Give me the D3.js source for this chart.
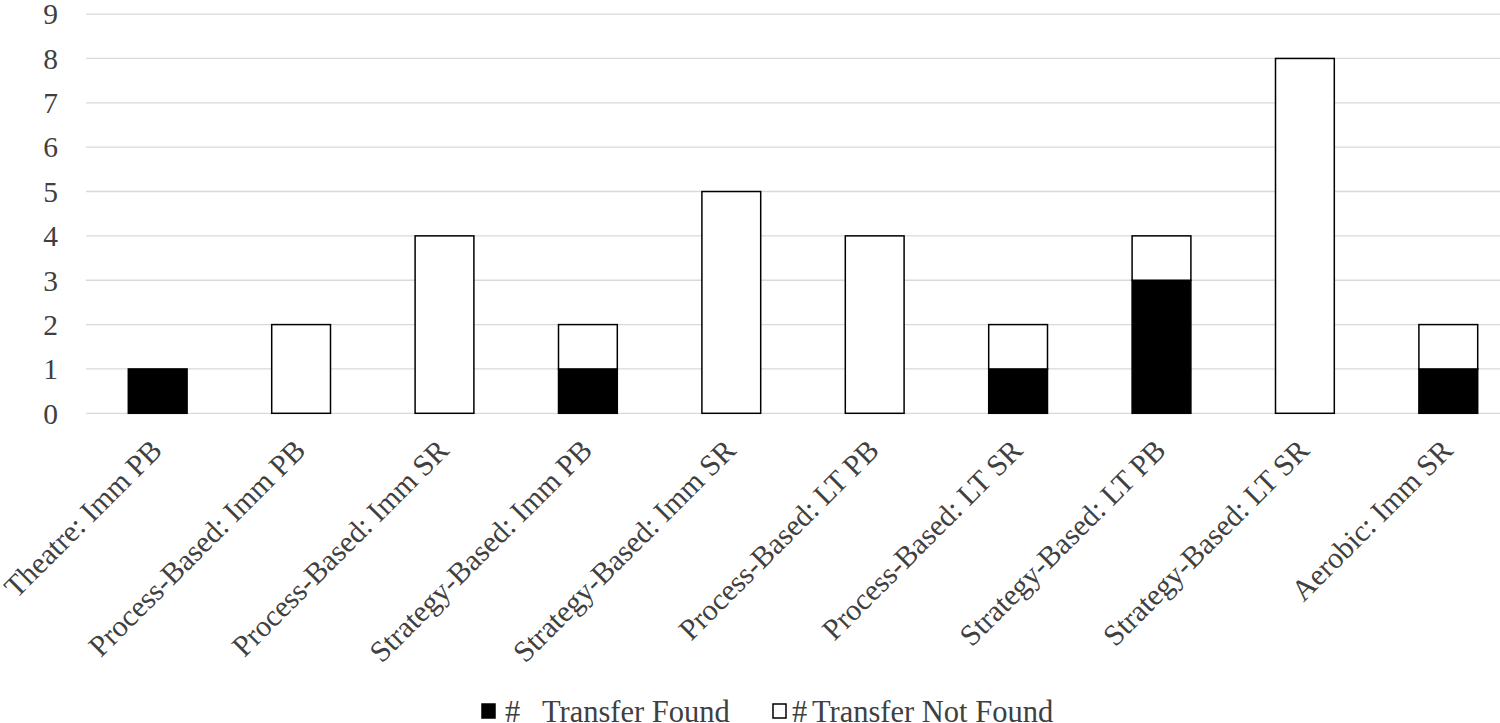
<!DOCTYPE html>
<html><head><meta charset="utf-8">
<script src="https://cdn.jsdelivr.net/npm/d3@7"></script>
<style>
html,body{margin:0;padding:0;background:#fff;overflow:hidden;}
text{font-family:"Liberation Serif","Times New Roman",serif;}
</style></head>
<body>
<svg id="chart" width="1500" height="723"></svg>
<script>
const categories = ["Theatre: Imm PB","Process-Based: Imm PB","Process-Based: Imm SR","Strategy-Based: Imm PB","Strategy-Based: Imm SR","Process-Based: LT PB","Process-Based: LT SR","Strategy-Based: LT PB","Strategy-Based: LT SR","Aerobic: Imm SR"];
const transferFound = [1,0,0,1,0,0,1,3,0,1];
const transferNotFound = [0,2,4,1,5,4,1,1,8,1];
const seriesNames = ["#  Transfer Found","# Transfer Not Found"];
const yTicks = [0,1,2,3,4,5,6,7,8,9];

const svg = d3.select("#chart");
const plotLeft = 86, plotRight = 1520, plotTop = 14.1, plotBottom = 413.3;
const x = d3.scaleBand().domain(categories).range([plotLeft, plotRight]).paddingInner(0.59).paddingOuter(0.295);
const y = d3.scaleLinear().domain([0,9]).range([plotBottom, plotTop]);

// gridlines
svg.append("g").selectAll("line").data(yTicks).join("line")
  .attr("x1", plotLeft).attr("x2", 1500)
  .attr("y1", d => y(d)).attr("y2", d => y(d))
  .attr("stroke", "#d9d9d9").attr("stroke-width", 1.3);

// y labels
svg.append("g").selectAll("text").data(yTicks).join("text")
  .attr("x", 58).attr("y", d => y(d)).attr("dy", "0.35em")
  .attr("text-anchor", "end").attr("font-size", 29.5).attr("fill", "#404040")
  .text(d => d);

const rows = categories.map((c,i) => ({cat:c, found:transferFound[i], notFound:transferNotFound[i]}));
const stack = d3.stack().keys(["found","notFound"])(rows);
const fills = ["#000000","#ffffff"];

stack.forEach((layer, li) => {
  svg.append("g").selectAll("rect").data(layer.filter(d => d[1] > d[0])).join("rect")
    .attr("x", d => x(d.data.cat)).attr("width", x.bandwidth())
    .attr("y", d => y(d[1])).attr("height", d => y(d[0]) - y(d[1]))
    .attr("fill", fills[li]).attr("stroke", "#000").attr("stroke-width", 1.5);
});

// x labels
svg.append("g").selectAll("text").data(categories).join("text")
  .attr("transform", d => `translate(${x(d) + x.bandwidth()/2 + 6},452) rotate(-45)`)
  .attr("text-anchor", "end").attr("font-size", 30).attr("fill", "#404040")
  .text(d => d);

// legend
const legend = [{name: seriesNames[0], fill: "#000", sx: 482, tx: 505, restX: 542},
                {name: seriesNames[1], fill: "#fff", sx: 773, tx: 792, restX: 812}];
const lg = svg.append("g");
legend.forEach(l => {
  lg.append("rect").attr("x", l.sx).attr("y", 704).attr("width", 13).attr("height", 14)
    .attr("fill", l.fill).attr("stroke", "#000").attr("stroke-width", 1.5);
  const t = lg.append("text").attr("y", 721.5).attr("font-size", 30.5).attr("fill", "#404040");
  const parts = l.name.match(/^(#)\s*(.*)$/);
  t.append("tspan").attr("x", l.tx).text(parts[1]);
  t.append("tspan").attr("x", l.restX).text(parts[2]);
});
</script>
</body></html>
